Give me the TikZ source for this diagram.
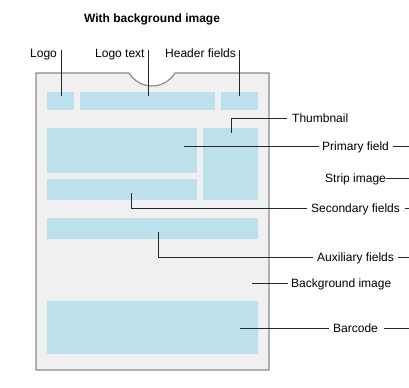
\documentclass[tikz,border=0pt]{standalone}
\usepackage{fontspec}
\setmainfont{Liberation Sans}
\usepackage{tikz}
\usetikzlibrary{positioning,calc}

\definecolor{cardgray}{HTML}{F0F0F0}
\definecolor{cardedge}{HTML}{8A8A8A}
\definecolor{fieldblue}{HTML}{BCE0EC}

\begin{document}
\begin{tikzpicture}[x=1bp,y=-1bp,
  card/.style={fill=cardgray,draw=cardedge,line width=1.2bp},
  field/.style={fill=fieldblue,draw=none,inner sep=0pt,anchor=north west},
  lbl/.style={inner sep=0pt,anchor=west,text height=8.6bp,text depth=0pt,
    font=\fontsize{12bp}{14bp}\selectfont},
  leader/.style={draw=black!85,line width=0.9bp}]
\useasboundingbox (0,0) rectangle (409,388);
% Card outline with the notch on top
\draw[card] (36,73) -- (129,73)
  arc[start angle=149,end angle=31,x radius=26.8,y radius=26.8]
  -- (269,73) -- (269,370) -- (36,370) -- cycle;
% Fields on the card
\node[field,minimum width=27bp,minimum height=18bp] (logo) at (47,92) {};
\node[field,minimum width=135bp,minimum height=18bp] (logotext) at (80,92) {};
\node[field,minimum width=37bp,minimum height=18bp] (header) at (221,92) {};
\node[field,minimum width=150bp,minimum height=45bp] (primary) at (47,128) {};
\node[field,minimum width=55bp,minimum height=72bp] (thumb) at (203,128) {};
\node[field,minimum width=150bp,minimum height=21bp] (secondary) at (47,179) {};
\node[field,minimum width=211bp,minimum height=21bp] (aux) at (47,218) {};
\node[field,minimum width=211bp,minimum height=53bp] (barcode) at (47,301) {};
% Title and labels
\node[font=\fontsize{12bp}{14bp}\selectfont\bfseries] (title) at (152,19.5) {With background image};
\node[lbl] (logoL) at (30,53.5) {Logo};
\node[lbl] (logotextL) at (95,53.5) {Logo text};
\node[lbl] (headerL) at (165,53.5) {Header fields};
\node[lbl] (thumbL) at (292,118) {Thumbnail};
\node[lbl] (primL) at (322,146) {Primary field};
\node[lbl] (stripL) at (325,178) {Strip image};
\node[lbl] (secL) at (311,208) {Secondary fields};
\node[lbl] (auxL) at (317,257) {Auxiliary fields};
\node[lbl] (bgL) at (291,283) {Background image};
\node[lbl] (barL) at (333,328) {Barcode};
% Tips of the leader lines
\coordinate (logoTip) at (61,96);
\coordinate (logotextTip) at (148,96);
\coordinate (headerTip) at (239,96);
\coordinate (thumbTip) at (231,133);
\coordinate (primTip) at (184,146);
\coordinate (secTip) at (131,193);
\coordinate (auxTip) at (158,232);
\coordinate (bgTip) at (252,283);
\coordinate (barTip) at (240,328);
\coordinate (edge) at (412,0);
% Leader lines
\draw[leader] (logoTip |- 0,50) -- (logoTip);
\draw[leader] (logotextTip |- 0,50) -- (logotextTip);
\draw[leader] (headerTip |- 0,50) -- (headerTip);
\draw[leader] ([xshift=-5bp]thumbL.west) -| (thumbTip);
\draw[leader] ([xshift=-3bp]primL.west) -- (primTip);
\draw[leader] ([xshift=-4bp]secL.west) -| (secTip);
\draw[leader] ([xshift=-4bp]auxL.west) -| (auxTip);
\draw[leader] ([xshift=-3bp]bgL.west) -- (bgTip);
\draw[leader] ([xshift=-4bp]barL.west) -- (barTip);
% Stubs running off the right edge
\foreach \n/\g in {primL/4,stripL/0,secL/5,auxL/4,barL/6}
  \draw[leader] ([xshift=\g bp]\n.east) -- (\n.east -| edge);
\end{tikzpicture}
\end{document}
